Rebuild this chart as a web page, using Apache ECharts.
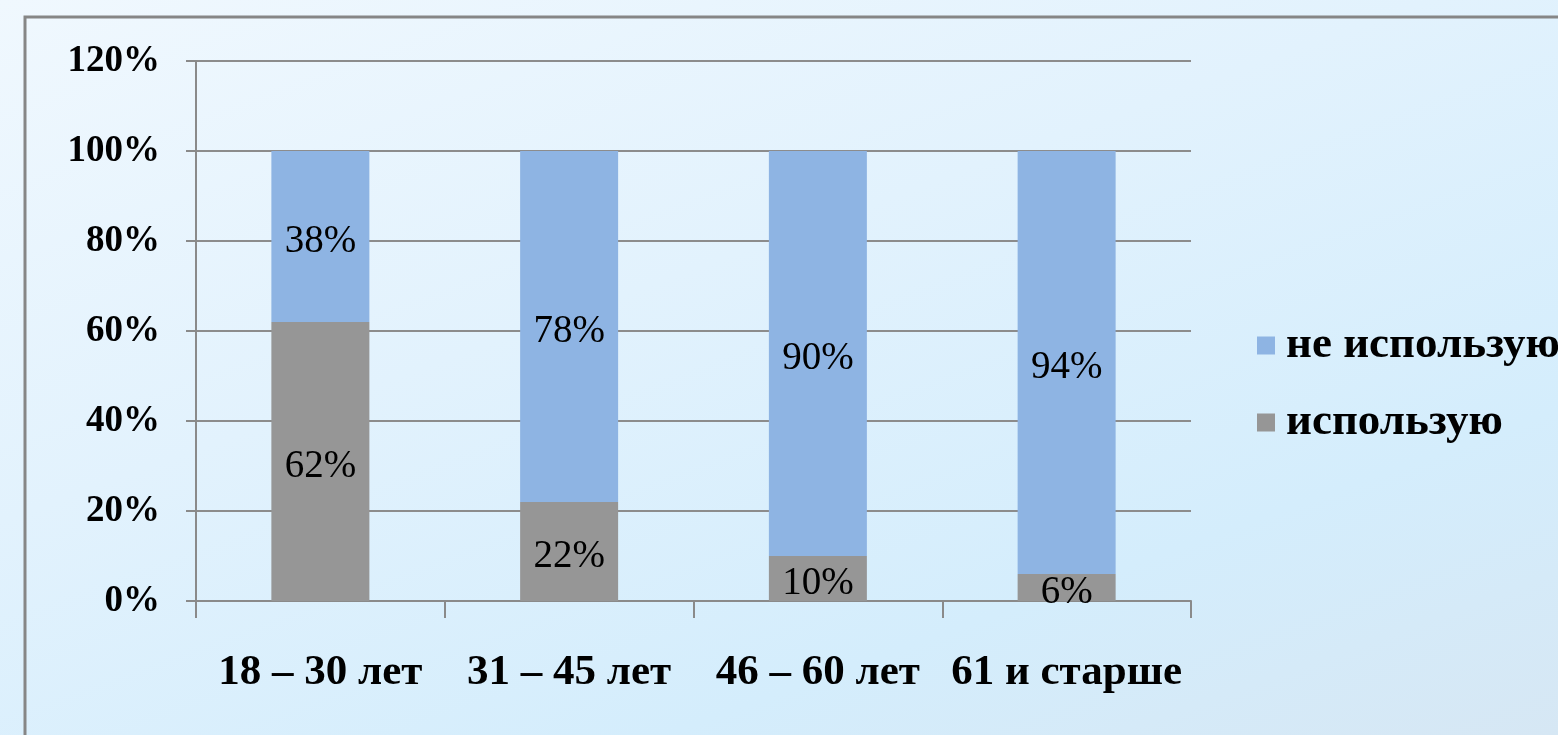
<!DOCTYPE html>
<html>
<head>
<meta charset="utf-8">
<script src="https://cdn.jsdelivr.net/npm/echarts@6/dist/echarts.min.js"></script>
<style>
html,body{margin:0;padding:0;width:1558px;height:735px;overflow:hidden;
background:linear-gradient(160deg,#f0f8fe 0%,#e2f2fd 40%,#d4edfc 75%,#d6e7f4 100%);}
#chart{width:1558px;height:735px;}
</style>
</head>
<body>
<div id="chart"></div>
<script>
const categories = ['18 – 30 лет', '31 – 45 лет', '46 – 60 лет', '61 и старше'];
const usingValues = [62, 22, 10, 6];
const notUsingValues = [38, 78, 90, 94];
const seriesNames = ['использую', 'не использую'];
const yTicks = [0, 20, 40, 60, 80, 100, 120];

const serif = '"Liberation Serif","Times New Roman",serif';
const chart = echarts.init(document.getElementById('chart'), null, {renderer: 'canvas'});

const labelStyle = {
  show: true, position: 'inside', offset: [0, 5], formatter: p => p.value + '%',
  fontFamily: serif, fontSize: 39, color: '#000', fontWeight: 'normal'
};

chart.setOption({
  backgroundColor: 'transparent',
  animation: false,
  graphic: [{
    type: 'rect', z: -1,
    shape: {x: 25, y: 17, width: 1600, height: 800},
    style: {fill: 'none', stroke: '#868686', lineWidth: 3}
  }],
  grid: {left: 196, top: 61, right: 367, bottom: 134, containLabel: false},
  legend: {
    orient: 'vertical', left: 1252, top: 318,
    data: [seriesNames[1], seriesNames[0]],
    itemWidth: 18, itemHeight: 18, itemGap: 32, icon: 'rect',
    textStyle: {fontFamily: serif, fontSize: 45, fontWeight: 'bold', color: '#000', padding: [0, 0, 0, 6]}
  },
  xAxis: {
    type: 'category', data: categories,
    axisLine: {lineStyle: {color: '#8a8a8a', width: 2}},
    axisTick: {show: true, interval: 0, length: 17, lineStyle: {color: '#8a8a8a', width: 2}},
    axisLabel: {interval: 0, hideOverlap: false, margin: 50, fontFamily: serif, fontSize: 43, fontWeight: 'bold', color: '#000'}
  },
  yAxis: {
    type: 'value', min: yTicks[0], max: yTicks[yTicks.length - 1], interval: 20,
    axisLine: {show: true, lineStyle: {color: '#8a8a8a', width: 2}},
    axisTick: {show: true, length: 10, lineStyle: {color: '#8a8a8a', width: 2}},
    axisLabel: {margin: 36, formatter: v => v + '%', fontFamily: serif, fontSize: 37, fontWeight: 'bold', color: '#000'},
    splitLine: {lineStyle: {color: '#8c8c8c', width: 2}}
  },
  series: [
    {name: seriesNames[0], type: 'bar', stack: 'a', data: usingValues, barWidth: 98,
     itemStyle: {color: '#969696'}, label: labelStyle},
    {name: seriesNames[1], type: 'bar', stack: 'a', data: notUsingValues, barWidth: 98,
     itemStyle: {color: '#8eb4e3'}, label: labelStyle}
  ]
});
</script>
</body>
</html>
